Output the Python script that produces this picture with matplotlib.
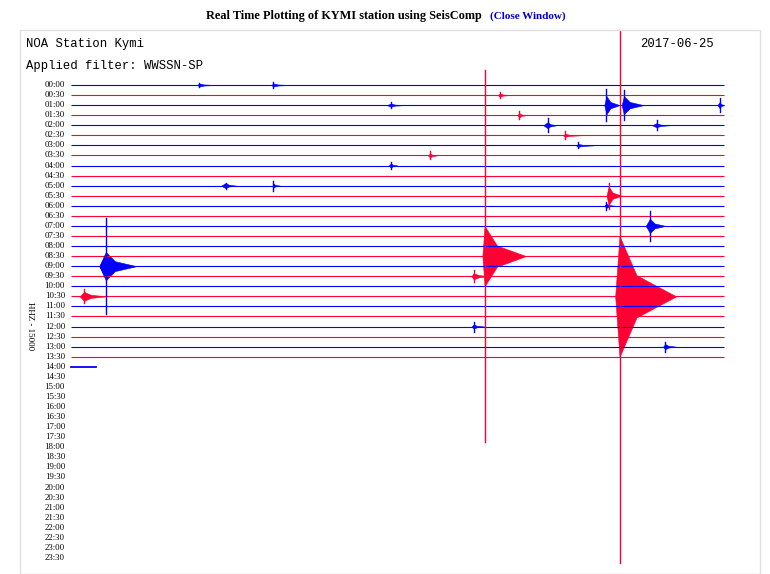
import matplotlib
matplotlib.use("Agg")
import matplotlib.pyplot as plt
from matplotlib.patches import Rectangle

# rows: 48 half-hour lines; data drawn until 14:00 (row 28, partial)
row_labels = ["%02d:%02d" % (h, m) for h in range(24) for m in (0, 30)]
n_full_rows = 28
last_row_end = 1.15  # minutes drawn in 14:00 row

# events: row, start min, peak min, end min, spike amplitude (rows), coda amplitude (rows)
ev_row   = [17,   21,   2,    2,    2,    11,   14,   18,   18,   21,   4,    4,    3,    7,    8,    10,   10,   26,   0,    1,    5,    6,    24,   12,   19,   0,    2]
ev_start = [18.9, 25.0, 24.5, 25.3, 29.7, 24.6, 26.4, 1.3,  1.3,  0.4,  21.7, 26.7, 20.5, 16.4, 14.6, 6.9,  9.3,  27.2, 9.2,  19.6, 22.6, 23.2, 18.4, 24.5, 18.4, 5.8,  14.5]
ev_peak  = [19.0, 25.2, 24.6, 25.4, 29.8, 24.7, 26.6, 1.6,  1.5,  0.6,  21.9, 26.9, 20.6, 16.5, 14.7, 7.1,  9.3,  27.3, 9.3,  19.7, 22.7, 23.3, 18.5, 24.6, 18.5, 5.9,  14.7]
ev_end   = [20.9, 27.8, 25.2, 26.3, 30.0, 25.3, 27.3, 3.0,  3.0,  1.6,  22.3, 27.5, 20.9, 16.8, 15.0, 7.6,  9.6,  27.8, 10.0, 20.2, 23.4, 24.0, 19.0, 25.0, 19.3, 6.6,  15.3]
ev_spike = [18.5, 26.5, 1.6,  1.5,  0.7,  1.3,  1.5,  4.8,  1.0,  0.7,  0.7,  0.5,  0.4,  0.4,  0.3,  0.3,  0.5,  0.5,  0.3,  0.3,  0.4,  0.3,  0.5,  0.4,  0.6,  0.2,  0.3]
ev_coda  = [3.0,  6.0,  0.9,  0.9,  0.3,  0.9,  0.7,  1.4,  0.8,  0.45, 0.3,  0.2,  0.2,  0.2,  0.2,  0.25, 0.2,  0.25, 0.15, 0.15, 0.15, 0.15, 0.2,  0.2,  0.3,  0.15, 0.15]

BLUE = "#0000ff"
RED = "#ff0033"

W, H = 770, 574
fig = plt.figure(figsize=(W / 100, H / 100), dpi=100)
fig.patch.set_facecolor("white")
ax = fig.add_axes([0, 0, 1, 1])
ax.axis("off")
px_per_min = (724 - 71) / 30.0
px_per_row = (558 - 85) / 47.0
ax.set_xlim(-71 / px_per_min, (W - 71) / px_per_min)
ax.set_ylim((H - 85) / px_per_row, -85 / px_per_row)

fig.patches.append(Rectangle((20 / W, 0), 740 / W, (H - 30) / H, transform=fig.transFigure,
                             fill=False, edgecolor="#e0e0e0", lw=1))

def col(r):
    return BLUE if r % 2 == 0 else RED

for r in range(n_full_rows):
    ax.plot([0, 30], [r, r], color=col(r), lw=0.8, solid_capstyle="butt")
ax.plot([0, last_row_end], [n_full_rows, n_full_rows], color=col(n_full_rows), lw=1.3)

for r, s, p, e, sp, cd in zip(ev_row, ev_start, ev_peak, ev_end, ev_spike, ev_coda):
    c = col(r)
    m = p + (e - p) * 0.3
    xs = [s, p, m, e]
    env = [0, cd, cd * 0.35, 0]
    ax.fill_between(xs, [r - v for v in env], [r + v for v in env], color=c, lw=0.4)
    ax.plot([p, p], [r - sp, r + sp], color=c, lw=1.0)

for i, lab in enumerate(row_labels):
    ax.text(-6 / px_per_min, i, lab, ha="right", va="center", fontsize=6.3,
            family="Liberation Serif")

fig.text(482 / W, 1 - 16 / H, "Real Time Plotting of KYMI station using SeisComp",
         ha="right", va="center", fontsize=8.8, weight="bold", family="Liberation Serif")
fig.text(490 / W, 1 - 16 / H, "(Close Window)", ha="left", va="center", fontsize=8,
         weight="bold", family="Liberation Serif", color="#0000cc")
fig.text(26 / W, 1 - 44 / H, "NOA Station Kymi", ha="left", va="center", fontsize=8.8,
         family="Liberation Mono")
fig.text(26 / W, 1 - 66 / H, "Applied filter: WWSSN-SP", ha="left", va="center", fontsize=8.8,
         family="Liberation Mono")
fig.text(714 / W, 1 - 44 / H, "2017-06-25", ha="right", va="center", fontsize=8.8,
         family="Liberation Mono")
fig.text(30 / W, 1 - 326 / H, "HHZ - 15000", ha="center", va="center", fontsize=6.5,
         rotation=270, family="Liberation Serif")

fig.savefig("out.png", dpi=100)
